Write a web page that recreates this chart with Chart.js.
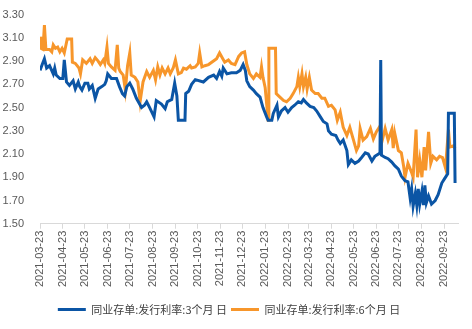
<!DOCTYPE html>
<html>
<head>
<meta charset="utf-8">
<script src="https://cdn.jsdelivr.net/npm/chart.js@4/dist/chart.umd.min.js"></script>
<style>
html,body{margin:0;padding:0;background:#fff;}
#wrap{width:472px;height:329px;position:relative;}
</style>
</head>
<body>
<div id="wrap"><canvas id="c" width="472" height="329"></canvas></div>
<script>
const seriesNames = ['同业存单:发行利率:3个月 日', '同业存单:发行利率:6个月 日'];

const tickLabels = ['2021-03-23','2021-04-23','2021-05-23','2021-06-23','2021-07-23','2021-08-23','2021-09-23','2021-10-23','2021-11-23','2021-12-23','2022-01-23','2022-02-23','2022-03-23','2022-04-23','2022-05-23','2022-06-23','2022-07-23','2022-08-23','2022-09-23'];
const yTicks = [1.50,1.70,1.90,2.10,2.30,2.50,2.70,2.90,3.10,3.30];
const xStart = '2021-03-23';
const xEnd = '2022-10-12';

const dates3M = ['2021-03-23','2021-03-26','2021-03-29','2021-04-01','2021-04-05','2021-04-10','2021-04-12','2021-04-14','2021-04-19','2021-04-23','2021-04-25','2021-04-28','2021-05-02','2021-05-07','2021-05-10','2021-05-14','2021-05-16','2021-05-19','2021-05-23','2021-05-27','2021-05-29','2021-06-02','2021-06-06','2021-06-10','2021-06-15','2021-06-19','2021-06-21','2021-06-23','2021-06-28','2021-07-05','2021-07-09','2021-07-13','2021-07-16','2021-07-19','2021-07-23','2021-07-27','2021-08-01','2021-08-08','2021-08-12','2021-08-15','2021-08-19','2021-08-25','2021-08-28','2021-09-04','2021-09-09','2021-09-12','2021-09-18','2021-09-22','2021-09-25','2021-09-27','2021-10-06','2021-10-07','2021-10-11','2021-10-15','2021-10-20','2021-10-31','2021-11-07','2021-11-14','2021-11-18','2021-11-22','2021-11-25','2021-11-27','2021-12-02','2021-12-08','2021-12-15','2021-12-20','2021-12-24','2021-12-27','2021-12-29','2022-01-02','2022-01-07','2022-01-11','2022-01-16','2022-01-20','2022-01-25','2022-01-27','2022-02-01','2022-02-03','2022-02-08','2022-02-10','2022-02-14','2022-02-19','2022-02-23','2022-02-28','2022-03-04','2022-03-09','2022-03-13','2022-03-16','2022-03-20','2022-03-25','2022-03-30','2022-04-03','2022-04-08','2022-04-12','2022-04-17','2022-04-19','2022-04-23','2022-04-29','2022-05-02','2022-05-05','2022-05-09','2022-05-14','2022-05-16','2022-05-20','2022-05-25','2022-05-30','2022-06-03','2022-06-08','2022-06-12','2022-06-17','2022-06-21','2022-06-26','2022-06-28','2022-06-29','2022-06-30','2022-07-05','2022-07-09','2022-07-14','2022-07-18','2022-07-23','2022-07-27','2022-08-01','2022-08-05','2022-08-08','2022-08-10','2022-08-12','2022-08-15','2022-08-17','2022-08-19','2022-08-21','2022-08-24','2022-08-26','2022-08-28','2022-08-30','2022-09-02','2022-09-06','2022-09-11','2022-09-15','2022-09-20','2022-09-24','2022-09-28','2022-09-29','2022-10-07','2022-10-08'];
const values3M = [2.82,2.87,2.92,2.84,2.86,2.79,2.84,2.78,2.75,2.75,2.91,2.72,2.69,2.73,2.66,2.72,2.68,2.65,2.71,2.71,2.66,2.69,2.58,2.66,2.68,2.70,2.73,2.79,2.75,2.75,2.68,2.62,2.60,2.68,2.71,2.66,2.58,2.50,2.52,2.55,2.50,2.42,2.56,2.53,2.49,2.55,2.57,2.71,2.60,2.39,2.39,2.62,2.64,2.70,2.74,2.72,2.76,2.78,2.75,2.81,2.77,2.84,2.79,2.80,2.80,2.82,2.87,2.82,2.73,2.68,2.65,2.62,2.59,2.50,2.42,2.39,2.39,2.45,2.52,2.42,2.47,2.50,2.46,2.50,2.52,2.55,2.54,2.57,2.54,2.51,2.50,2.47,2.42,2.38,2.36,2.30,2.27,2.26,2.22,2.19,2.22,2.13,2.01,2.05,2.02,2.04,2.07,2.11,2.10,2.04,2.08,2.10,2.11,2.91,2.09,2.07,2.06,2.03,2.00,1.97,1.91,1.87,1.86,1.72,1.80,1.65,1.76,1.66,1.80,1.67,1.78,1.66,1.83,1.68,1.74,1.67,1.70,1.75,1.85,1.89,1.93,2.45,2.45,1.85];

const dates6M = ['2021-03-23','2021-03-24','2021-03-27','2021-03-29','2021-03-31','2021-04-05','2021-04-08','2021-04-10','2021-04-13','2021-04-16','2021-04-19','2021-04-22','2021-04-25','2021-04-29','2021-05-05','2021-05-06','2021-05-10','2021-05-15','2021-05-17','2021-05-20','2021-05-25','2021-05-30','2021-06-02','2021-06-06','2021-06-10','2021-06-13','2021-06-17','2021-06-19','2021-06-22','2021-06-24','2021-06-28','2021-07-03','2021-07-06','2021-07-08','2021-07-10','2021-07-14','2021-07-17','2021-07-20','2021-07-23','2021-07-25','2021-07-30','2021-08-03','2021-08-06','2021-08-10','2021-08-15','2021-08-19','2021-08-24','2021-08-27','2021-08-30','2021-09-02','2021-09-05','2021-09-09','2021-09-13','2021-09-16','2021-09-20','2021-09-23','2021-09-27','2021-10-01','2021-10-04','2021-10-08','2021-10-13','2021-10-15','2021-10-20','2021-10-24','2021-10-26','2021-10-29','2021-11-02','2021-11-07','2021-11-18','2021-11-22','2021-11-29','2021-12-04','2021-12-08','2021-12-13','2021-12-18','2021-12-22','2021-12-26','2021-12-29','2022-01-02','2022-01-07','2022-01-11','2022-01-16','2022-01-18','2022-01-20','2022-01-23','2022-01-25','2022-01-27','2022-01-28','2022-02-06','2022-02-07','2022-02-12','2022-02-17','2022-02-21','2022-02-26','2022-03-02','2022-03-07','2022-03-09','2022-03-11','2022-03-14','2022-03-16','2022-03-19','2022-03-21','2022-03-24','2022-03-27','2022-04-01','2022-04-05','2022-04-10','2022-04-14','2022-04-19','2022-04-23','2022-04-28','2022-05-01','2022-05-05','2022-05-09','2022-05-14','2022-05-18','2022-05-23','2022-05-27','2022-05-30','2022-06-01','2022-06-05','2022-06-10','2022-06-15','2022-06-19','2022-06-23','2022-06-28','2022-06-30','2022-07-05','2022-07-09','2022-07-14','2022-07-16','2022-07-18','2022-07-23','2022-07-27','2022-07-30','2022-08-01','2022-08-05','2022-08-10','2022-08-12','2022-08-16','2022-08-18','2022-08-21','2022-08-24','2022-08-27','2022-08-29','2022-09-02','2022-09-05','2022-09-08','2022-09-13','2022-09-17','2022-09-21','2022-09-25','2022-09-29','2022-10-01','2022-10-06','2022-10-08'];
const values6M = [3.11,3.01,3.00,3.21,3.00,3.00,2.98,3.04,3.01,3.02,2.98,3.01,2.97,3.09,3.09,2.89,2.88,2.84,2.79,2.91,2.88,2.92,2.88,2.93,2.90,2.87,2.91,2.88,3.02,2.88,2.85,2.82,3.04,2.84,2.81,2.78,2.65,2.86,2.97,2.78,2.76,2.72,2.55,2.72,2.81,2.76,2.82,2.74,2.85,2.78,2.84,2.79,2.84,2.79,2.84,2.91,2.79,2.80,2.84,2.83,2.86,2.84,2.85,2.88,2.97,2.85,2.86,2.87,2.92,2.97,2.89,2.91,2.88,2.87,2.94,2.97,2.98,2.87,2.79,2.75,2.79,2.76,2.85,2.76,2.67,2.53,2.39,3.01,3.01,2.62,2.59,2.56,2.55,2.58,2.62,2.68,2.76,2.68,2.79,2.68,2.76,2.66,2.76,2.65,2.62,2.62,2.58,2.58,2.51,2.52,2.48,2.39,2.46,2.33,2.26,2.33,2.22,2.13,2.17,2.32,2.22,2.25,2.32,2.23,2.29,2.34,2.19,2.32,2.22,2.31,2.15,2.28,2.13,2.11,2.00,1.90,2.02,1.94,1.90,2.31,1.90,2.05,1.90,2.16,1.96,2.29,2.02,2.08,2.05,2.08,2.07,1.98,2.31,2.16,2.17,2.15];

const colors = ['#0b55a5', '#f7962b'];

const base = Date.UTC(2021, 2, 23);
function dayOf(s) {
  const p = s.split('-').map(Number);
  return (Date.UTC(p[0], p[1] - 1, p[2]) - base) / 86400000;
}
function pts(ds, vs) { return ds.map((d, i) => ({x: dayOf(d), y: vs[i]})); }
const tickDays = tickLabels.map(dayOf);

const tickFont = {family: "'Liberation Sans', Arial, sans-serif", size: 11};

new Chart(document.getElementById('c'), {
  type: 'line',
  data: {
    datasets: [
      {label: seriesNames[0], data: pts(dates3M, values3M), borderColor: colors[0], backgroundColor: colors[0], borderWidth: 3, pointRadius: 0, tension: 0},
      {label: seriesNames[1], data: pts(dates6M, values6M), borderColor: colors[1], backgroundColor: colors[1], borderWidth: 3, pointRadius: 0, tension: 0}
    ]
  },
  options: {
    responsive: false,
    animation: false,
    layout: {padding: {top: 10, right: 14, bottom: 4, left: 0}},
    plugins: {
      tooltip: {enabled: false},
      legend: {
        position: 'bottom',
        labels: {
          boxWidth: 28, boxHeight: 3, padding: 4, color: '#404040',
          font: {family: "'Noto Sans CJK SC', sans-serif", size: 11},
          generateLabels: (chart) => chart.data.datasets.map((ds, i) => ({
            text: ds.label, fillStyle: ds.borderColor, strokeStyle: ds.borderColor, lineWidth: 0, hidden: false, datasetIndex: i, fontColor: '#404040'
          }))
        }
      }
    },
    scales: {
      x: {
        type: 'linear',
        min: dayOf(xStart), max: dayOf(xEnd),
        afterBuildTicks: (axis) => { axis.ticks = tickDays.map(v => ({value: v})); },
        afterFit: (scale) => { scale.height += 11; },
        ticks: {
          autoSkip: false, minRotation: 90, maxRotation: 90, color: '#595959', font: tickFont, padding: 2,
          callback: (v) => { const i = tickDays.indexOf(v); return i >= 0 ? tickLabels[i] : ''; }
        },
        grid: {display: true, drawOnChartArea: false, drawTicks: true, tickLength: 5, color: '#d9d9d9'},
        border: {display: true, color: '#d9d9d9'}
      },
      y: {
        min: 1.5, max: 3.3,
        afterBuildTicks: (axis) => { axis.ticks = yTicks.map(v => ({value: v})); },
        afterFit: (scale) => { scale.width = 40; },
        ticks: {color: '#595959', font: tickFont, padding: 8, callback: (v) => Number(v).toFixed(2)},
        grid: {display: false},
        border: {display: false}
      }
    }
  }
});
</script>
</body>
</html>
